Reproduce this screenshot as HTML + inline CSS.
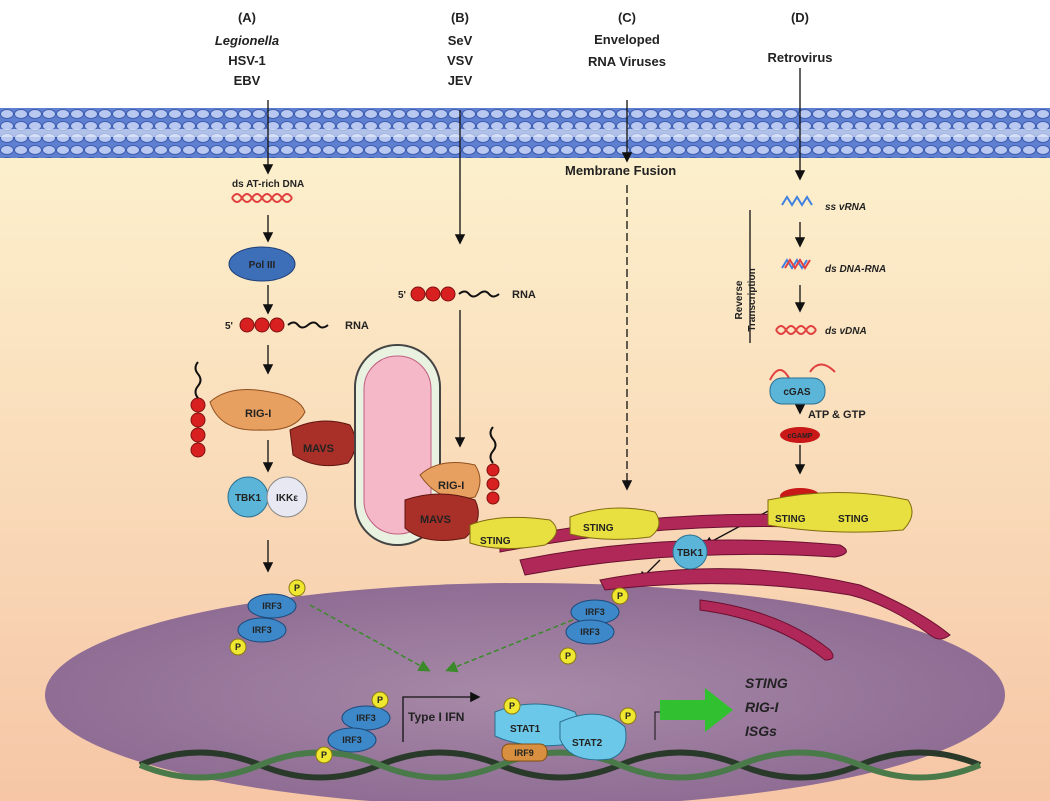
<!DOCTYPE html>
<html><head><meta charset="utf-8"><style>
body{margin:0;width:1050px;height:801px;overflow:hidden;background:#fff}
svg{display:block}
text{font-family:"Liberation Sans",sans-serif;font-weight:bold;fill:#222}
</style></head><body>
<svg width="1050" height="801" viewBox="0 0 1050 801">
<defs>
<linearGradient id="cyto" x1="0" y1="0" x2="0" y2="1">
<stop offset="0" stop-color="#fdf3cf"/><stop offset="1" stop-color="#f6c6a6"/></linearGradient>
<radialGradient id="nuc" cx="0.5" cy="0.5" r="0.6">
<stop offset="0" stop-color="#a88aa8"/><stop offset="1" stop-color="#8a6790"/></radialGradient>
<pattern id="mem" width="14" height="12" patternUnits="userSpaceOnUse" y="108">
<rect width="14" height="12" fill="#5f7fd0"/>
<ellipse cx="7" cy="6" rx="6.5" ry="4.5" fill="#b8c8f0" stroke="#3b5cb0" stroke-width="1"/>
</pattern>
<marker id="ar" markerWidth="8" markerHeight="8" refX="6" refY="4" orient="auto"><path d="M0,0 L8,4 L0,8z" fill="#111"/></marker>
<marker id="ga" markerWidth="8" markerHeight="8" refX="6" refY="4" orient="auto"><path d="M0,0 L8,4 L0,8z" fill="#3a8a2a"/></marker>
</defs>
<rect x="0" y="108" width="1050" height="693" fill="url(#cyto)"/>
<rect x="0" y="108" width="1050" height="50" fill="url(#mem)"/>
<rect x="0" y="129" width="1050" height="8" fill="#e8eefc" opacity="0.6"/>
<ellipse cx="525" cy="695" rx="480" ry="112" fill="url(#nuc)"/>
<!-- headers -->
<g font-size="13" text-anchor="middle">
<text x="247" y="22">(A)</text><text x="247" y="45" font-style="italic" fill="#222">Legionella</text>
<text x="247" y="65">HSV-1</text><text x="247" y="85">EBV</text>
<text x="460" y="22">(B)</text><text x="460" y="45">SeV</text><text x="460" y="65">VSV</text><text x="460" y="85">JEV</text>
<text x="627" y="22">(C)</text><text x="627" y="44">Enveloped</text><text x="627" y="66">RNA Viruses</text>
<text x="800" y="22">(D)</text><text x="800" y="62">Retrovirus</text>
</g>
<g stroke="#111" stroke-width="1.3" fill="none">
<line x1="268" y1="100" x2="268" y2="172" marker-end="url(#ar)"/>
<line x1="268" y1="215" x2="268" y2="240" marker-end="url(#ar)"/>
<line x1="268" y1="285" x2="268" y2="312" marker-end="url(#ar)"/>
<line x1="268" y1="345" x2="268" y2="372" marker-end="url(#ar)"/>
<line x1="268" y1="440" x2="268" y2="470" marker-end="url(#ar)"/>
<line x1="268" y1="540" x2="268" y2="570" marker-end="url(#ar)"/>
<line x1="460" y1="110" x2="460" y2="242" marker-end="url(#ar)"/>
<line x1="460" y1="310" x2="460" y2="445" marker-end="url(#ar)"/>
<line x1="627" y1="100" x2="627" y2="160" marker-end="url(#ar)"/>
<line x1="627" y1="185" x2="627" y2="488" stroke-dasharray="8,4" marker-end="url(#ar)"/>
<line x1="800" y1="68" x2="800" y2="178" marker-end="url(#ar)"/>
<line x1="800" y1="222" x2="800" y2="245" marker-end="url(#ar)"/>
<line x1="800" y1="285" x2="800" y2="310" marker-end="url(#ar)"/>
<line x1="800" y1="400" x2="800" y2="412" marker-end="url(#ar)"/>
<line x1="800" y1="445" x2="800" y2="472" marker-end="url(#ar)"/>
<line x1="770" y1="510" x2="705" y2="545" marker-end="url(#ar)"/>
<line x1="660" y1="560" x2="640" y2="580" marker-end="url(#ar)"/>
<line x1="750" y1="210" x2="750" y2="343"/>
</g>
<g stroke="#3a8a2a" stroke-width="1.5" stroke-dasharray="5,3" fill="none">
<line x1="310" y1="605" x2="428" y2="670" marker-end="url(#ga)"/>
<line x1="610" y1="605" x2="448" y2="670" marker-end="url(#ga)"/>
</g>
<text x="565" y="175" font-size="13">Membrane Fusion</text>
<!-- DNA helix A -->
<path d="M232,198 q5,-8 10,0 t10,0 t10,0 t10,0 t10,0 t10,0" stroke="#e04040" stroke-width="2" fill="none"/>
<path d="M232,198 q5,8 10,0 t10,0 t10,0 t10,0 t10,0 t10,0" stroke="#e04040" stroke-width="2" fill="none"/>
<text x="232" y="187" font-size="10">ds AT-rich DNA</text>
<ellipse cx="262" cy="264" rx="33" ry="17" fill="#3d6fb8" stroke="#1e3e78"/>
<text x="262" y="268" font-size="10" text-anchor="middle" fill="#fff">Pol III</text>
<!-- RNA 5'ppp -->
<g fill="#d82020" stroke="#801010">
<circle cx="247" cy="325" r="7"/><circle cx="262" cy="325" r="7"/><circle cx="277" cy="325" r="7"/>
<circle cx="418" cy="294" r="7"/><circle cx="433" cy="294" r="7"/><circle cx="448" cy="294" r="7"/>
<circle cx="198" cy="405" r="7"/><circle cx="198" cy="420" r="7"/><circle cx="198" cy="435" r="7"/><circle cx="198" cy="450" r="7"/>
<circle cx="493" cy="470" r="6"/><circle cx="493" cy="484" r="6"/><circle cx="493" cy="498" r="6"/>
</g>
<text x="225" y="329" font-size="10">5'</text><text x="398" y="298" font-size="10">5'</text>
<path d="M288,325 q6,-5 10,0 t10,0 t10,0 t10,0" stroke="#111" stroke-width="2" fill="none"/>
<path d="M459,294 q6,-5 10,0 t10,0 t10,0 t10,0" stroke="#111" stroke-width="2" fill="none"/>
<text x="345" y="329" font-size="11">RNA</text><text x="512" y="298" font-size="11">RNA</text>
<path d="M198,398 q-5,-6 0,-12 t0,-12 t0,-12" stroke="#111" stroke-width="2" fill="none"/>
<path d="M493,463 q-5,-6 0,-12 t0,-12 t0,-12" stroke="#111" stroke-width="2" fill="none"/>
<!-- RIG-I / MAVS A -->
<path d="M210,402 q20,-18 60,-10 q30,5 35,20 q-10,20 -45,18 q-40,2 -50,-28z" fill="#e8a060" stroke="#905020"/>
<text x="245" y="417" font-size="11" fill="#333">RIG-I</text>
<path d="M290,430 q30,-15 60,-5 q12,20 -2,38 q-30,8 -55,-8z" fill="#a83028" stroke="#601510"/>
<text x="303" y="452" font-size="11" fill="#fff">MAVS</text>
<!-- mitochondrion -->
<rect x="355" y="345" width="85" height="200" rx="42" fill="#e9f2e0" stroke="#444" stroke-width="2"/>
<rect x="364" y="356" width="67" height="178" rx="33" fill="#f5b8c8" stroke="#c06080"/>
<!-- RIG-I/MAVS B -->
<path d="M420,475 q20,-18 55,-10 q10,15 0,32 q-35,8 -55,-22z" fill="#e8a060" stroke="#905020"/>
<text x="438" y="489" font-size="11" fill="#333">RIG-I</text>
<path d="M405,500 q35,-12 70,0 q10,20 -10,38 q-40,8 -60,-10z" fill="#a83028" stroke="#601510"/>
<text x="420" y="523" font-size="11" fill="#fff">MAVS</text>
<!-- TBK1 IKKe -->
<circle cx="248" cy="497" r="20" fill="#5bb5d8" stroke="#2a6f90"/>
<circle cx="287" cy="497" r="20" fill="#e8e8f2" stroke="#888"/>
<text x="248" y="501" font-size="10" text-anchor="middle">TBK1</text>
<text x="287" y="501" font-size="10" text-anchor="middle">IKKε</text>
<!-- retrovirus -->
<path d="M782,205 l5,-8 5,8 5,-8 5,8 5,-8 5,8" stroke="#4080e0" stroke-width="2" fill="none"/>
<text x="825" y="210" font-size="10" font-style="italic" fill="#a01818">ss vRNA</text>
<path d="M782,268 l5,-8 5,8 5,-8 5,8 5,-8" stroke="#4080e0" stroke-width="2" fill="none"/>
<path d="M785,268 l5,-8 5,8 5,-8 5,8 5,-8" stroke="#e04040" stroke-width="2" fill="none"/>
<text x="825" y="272" font-size="10" font-style="italic" fill="#a01818">ds DNA-RNA</text>
<path d="M776,330 q5,-8 10,0 t10,0 t10,0 t10,0" stroke="#e04040" stroke-width="2" fill="none"/>
<path d="M776,330 q5,8 10,0 t10,0 t10,0 t10,0" stroke="#e04040" stroke-width="2" fill="none"/>
<text x="825" y="334" font-size="10" font-style="italic" fill="#a01818">ds vDNA</text>
<text transform="translate(742,300) rotate(-90)" font-size="10" text-anchor="middle">Reverse</text>
<text transform="translate(755,300) rotate(-90)" font-size="10" text-anchor="middle">Transcription</text>
<path d="M770,380 q10,-20 20,0 M810,372 q10,-15 25,0" stroke="#e04040" stroke-width="2" fill="none"/>
<rect x="770" y="378" width="55" height="26" rx="12" fill="#5bb5d8" stroke="#2a6f90"/>
<text x="797" y="395" font-size="10" text-anchor="middle">cGAS</text>
<text x="808" y="418" font-size="11">ATP &amp; GTP</text>
<ellipse cx="800" cy="435" rx="20" ry="8" fill="#c81818"/>
<text x="800" y="438" font-size="7" text-anchor="middle" fill="#fff">cGAMP</text>
<ellipse cx="800" cy="496" rx="20" ry="8" fill="#c81818"/>
<!-- Golgi -->
<g fill="#b02858" stroke="#6a1030">
<path d="M500,540 q150,-30 300,-25 q20,6 0,12 q-150,-4 -300,25z"/>
<path d="M520,560 q150,-30 320,-15 q15,8 -5,12 q-160,-10 -310,18z"/>
<path d="M600,580 q130,-25 260,5 q60,25 90,50 q-10,8 -20,0 q-40,-30 -80,-40 q-120,-20 -245,-5z"/>
<path d="M700,600 q80,10 130,50 q8,10 -5,10 q-50,-40 -125,-50z"/>
</g>
<!-- STING -->
<g fill="#e8e040" stroke="#806a10">
<path d="M470,525 q30,-12 80,-5 q15,12 -5,25 q-45,8 -75,-2z"/>
<path d="M570,517 q40,-15 85,-5 q10,14 -5,25 q-45,6 -80,-3z"/>
<path d="M768,500 q70,-15 140,0 q10,15 -5,30 q-70,6 -135,-5z"/>
</g>
<text x="480" y="544" font-size="10">STING</text>
<text x="583" y="531" font-size="10">STING</text>
<text x="775" y="522" font-size="10">STING</text><text x="838" y="522" font-size="10">STING</text>
<circle cx="690" cy="552" r="17" fill="#5bb5d8" stroke="#2a6f90"/>
<text x="690" y="556" font-size="10" text-anchor="middle">TBK1</text>
<!-- IRF3 -->
<g fill="#3d88c8" stroke="#1e4a7a">
<ellipse cx="272" cy="606" rx="24" ry="12"/><ellipse cx="262" cy="630" rx="24" ry="12"/>
<ellipse cx="595" cy="612" rx="24" ry="12"/><ellipse cx="590" cy="632" rx="24" ry="12"/>
<ellipse cx="366" cy="718" rx="24" ry="12"/><ellipse cx="352" cy="740" rx="24" ry="12"/>
</g>
<g font-size="9" text-anchor="middle"><text x="272" y="609">IRF3</text><text x="262" y="633">IRF3</text>
<text x="595" y="615">IRF3</text><text x="590" y="635">IRF3</text>
<text x="366" y="721">IRF3</text><text x="352" y="743">IRF3</text></g>
<!-- DNA in nucleus -->
<path d="M140,765 q60,-25 120,0 t120,0 t120,0 t120,0 t120,0 t120,0 t120,0" stroke="#2a3a2a" stroke-width="6" fill="none"/>
<path d="M140,765 q60,25 120,0 t120,0 t120,0 t120,0 t120,0 t120,0 t120,0" stroke="#4a7a4a" stroke-width="6" fill="none"/>
<path d="M403,742 l0,-45 l75,0" stroke="#111" stroke-width="1.3" fill="none" marker-end="url(#ar)"/>
<text x="408" y="721" font-size="12">Type I IFN</text>
<!-- STATs -->
<path d="M495,712 q40,-16 80,0 q10,20 -5,32 q-45,6 -75,-8z" fill="#6cc8e8" stroke="#2a6f90"/>
<path d="M560,722 q40,-18 65,5 q5,25 -15,32 q-40,5 -50,-20z" fill="#6cc8e8" stroke="#2a6f90"/>
<text x="510" y="732" font-size="10">STAT1</text><text x="572" y="746" font-size="10">STAT2</text>
<rect x="502" y="744" width="45" height="17" rx="7" fill="#d89040" stroke="#805010"/>
<text x="524" y="756" font-size="9" text-anchor="middle">IRF9</text>
<g fill="#f0e830" stroke="#8a7a10">
<circle cx="297" cy="588" r="8"/><circle cx="238" cy="647" r="8"/>
<circle cx="620" cy="596" r="8"/><circle cx="568" cy="656" r="8"/>
<circle cx="380" cy="700" r="8"/><circle cx="324" cy="755" r="8"/>
<circle cx="512" cy="706" r="8"/><circle cx="628" cy="716" r="8"/>
</g>
<g font-size="9" text-anchor="middle"><text x="297" y="591">P</text><text x="238" y="650">P</text><text x="620" y="599">P</text><text x="568" y="659">P</text><text x="380" y="703">P</text><text x="324" y="758">P</text><text x="512" y="709">P</text><text x="628" y="719">P</text></g>
<path d="M655,740 l0,-28 l45,0" stroke="#111" stroke-width="1" fill="none"/>
<path d="M660,700 l45,0 l0,-12 l28,22 l-28,22 l0,-12 l-45,0z" fill="#30c030"/>
<g font-size="14" font-style="italic" fill="#222"><text x="745" y="688">STING</text><text x="745" y="712">RIG-I</text><text x="745" y="736">ISGs</text></g>
</svg>
</body></html>
